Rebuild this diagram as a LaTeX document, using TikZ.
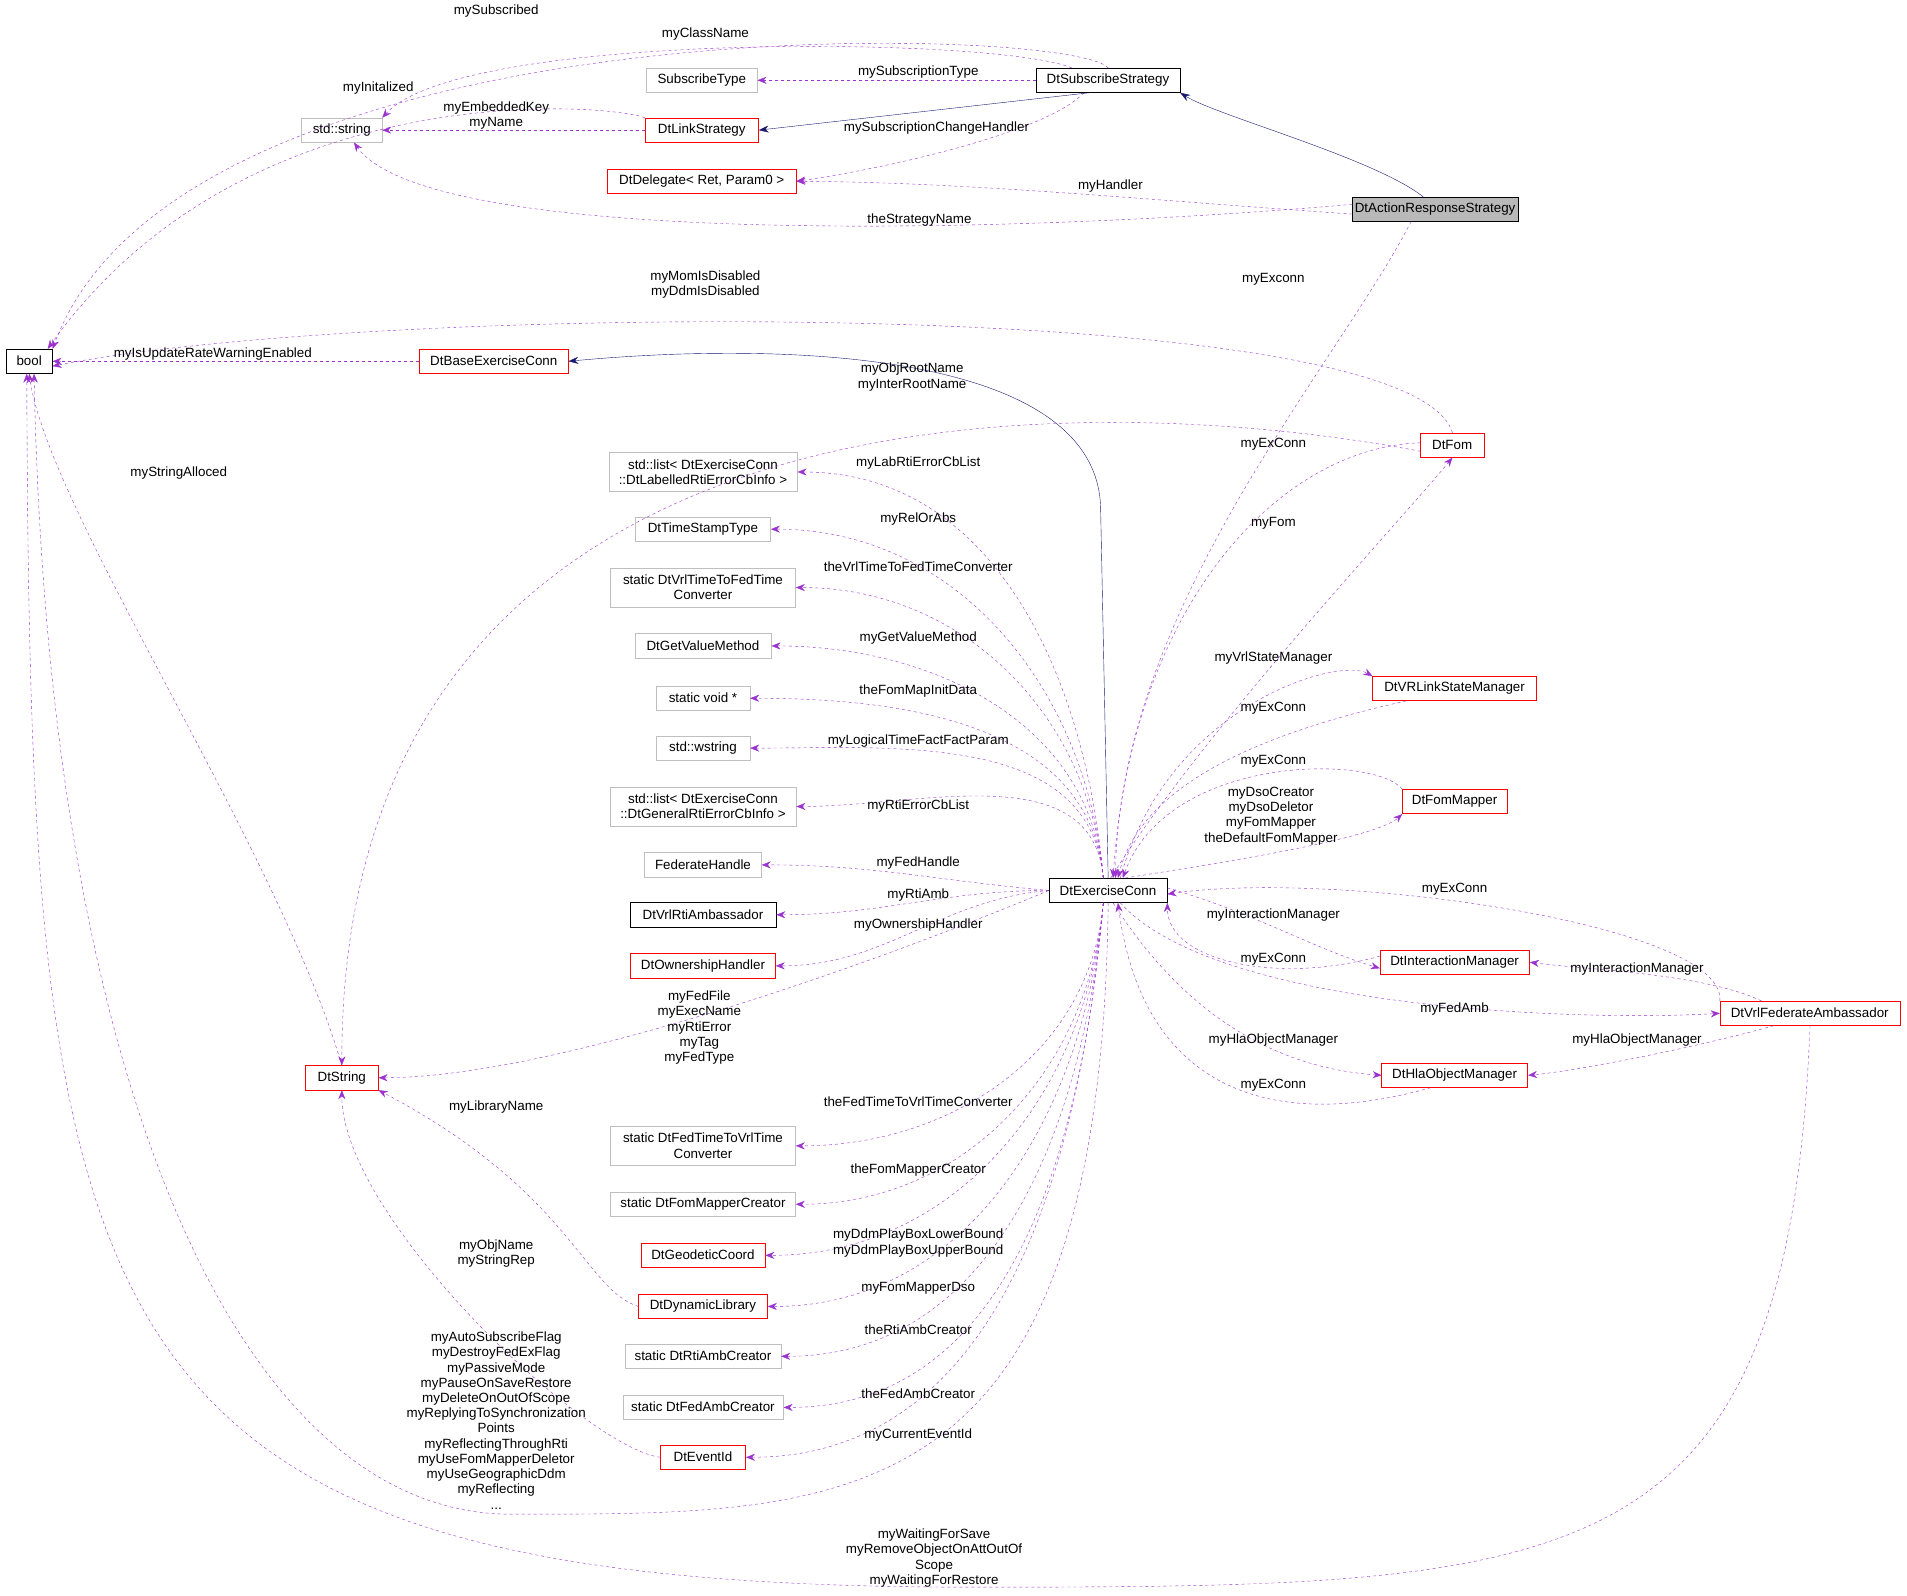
\documentclass[tikz,border=0pt]{standalone}
\usepackage{fontspec}
\setmainfont{Liberation Sans}
\usetikzlibrary{arrows.meta}
\definecolor{dep}{HTML}{9A32CD}
\definecolor{inh}{HTML}{191970}
\definecolor{gb}{HTML}{BFBFBF}
\begin{document}
\begin{tikzpicture}[x=1pt,y=-1pt,scale=1.2162,
  every node/.style={font=\fontsize{11}{12.5}\selectfont, transform shape},
  box/.style={draw, rectangle, inner sep=2pt, minimum height=20pt, align=center, fill=white},
  gbox/.style={box, draw=gb},
  rbox/.style={box, draw=red},
  kbox/.style={box, draw=black},
  lab/.style={align=center, inner sep=0pt},
  d/.style={draw=dep, dashed, -{Stealth[length=9pt,width=7pt]}},
  i/.style={draw=inh, -{Stealth[length=10pt,width=7pt]}}]
% nodes
\node[kbox, minimum width=38pt] (bool) at (24,297) {bool};
\node[gbox, minimum width=66pt] (sstr) at (281,107) {std::string};
\node[gbox, minimum width=91pt] (subt) at (577,66) {SubscribeType};
\node[kbox, minimum width=118pt] (ss) at (911,66) {DtSubscribeStrategy};
\node[rbox, minimum width=93pt] (ls) at (577,107) {DtLinkStrategy};
\node[rbox, minimum width=155pt] (del) at (577,149) {DtDelegate< Ret, Param0 >};
\node[kbox, fill=gray!55, minimum width=121pt] (ars) at (1180,172) {DtActionResponseStrategy};
\node[rbox, minimum width=122pt] (bec) at (406,297) {DtBaseExerciseConn};
\node[rbox, minimum width=52pt] (fom) at (1194,366) {DtFom};
\node[gbox, minimum width=155pt, minimum height=32pt, inner sep=1pt] (l1) at (578,388) {std::list< DtExerciseConn\\::DtLabelledRtiErrorCbInfo >};
\node[gbox, minimum width=111pt] (l2) at (578,435) {DtTimeStampType};
\node[gbox, minimum width=152pt, minimum height=32pt, inner sep=1pt] (l3) at (578,483) {static DtVrlTimeToFedTime\\Converter};
\node[gbox, minimum width=112pt] (l4) at (578,531) {DtGetValueMethod};
\node[gbox, minimum width=77pt] (l5) at (578,574) {static void *};
\node[gbox, minimum width=77pt] (l6) at (578,615) {std::wstring};
\node[gbox, minimum width=153pt, minimum height=32pt, inner sep=1pt] (l7) at (578,663) {std::list< DtExerciseConn\\::DtGeneralRtiErrorCbInfo >};
\node[gbox, minimum width=96pt] (l8) at (578,711) {FederateHandle};
\node[kbox, minimum width=120pt] (l9) at (578,752) {DtVrlRtiAmbassador};
\node[rbox, minimum width=119pt] (l10) at (578,794) {DtOwnershipHandler};
\node[rbox, minimum width=60pt] (dts) at (281,886) {DtString};
\node[gbox, minimum width=152pt, minimum height=32pt, inner sep=1pt] (l11) at (578,942) {static DtFedTimeToVrlTime\\Converter};
\node[gbox, minimum width=152pt] (l12) at (578,990) {static DtFomMapperCreator};
\node[rbox, minimum width=102pt] (l13) at (578,1032) {DtGeodeticCoord};
\node[rbox, minimum width=106pt] (l14) at (578,1074) {DtDynamicLibrary};
\node[gbox, minimum width=128pt] (l15) at (578,1115) {static DtRtiAmbCreator};
\node[gbox, minimum width=132pt] (l16) at (578,1157) {static DtFedAmbCreator};
\node[rbox, minimum width=70pt] (l17) at (578,1198) {DtEventId};
\node[kbox, minimum width=97pt] (ec) at (911,732) {DtExerciseConn};
\node[rbox, minimum width=135pt] (vrl) at (1196,566) {DtVRLinkStateManager};
\node[rbox, minimum width=86pt] (fm) at (1196,659) {DtFomMapper};
\node[rbox, minimum width=123pt] (im) at (1196,791) {DtInteractionManager};
\node[rbox, minimum width=148pt] (vfa) at (1488,833) {DtVrlFederateAmbassador};
\node[rbox, minimum width=120pt] (hom) at (1196,884) {DtHlaObjectManager};
% top edges
\draw[d] (ss.north) .. controls (880,20) and (150,0) .. (bool.north east);
\draw[d] ([xshift=-30pt]ss.north) .. controls (820,30) and (380,25) .. (sstr.north east);
\draw[d] (ss.west) -- (subt.east);
\draw[d] ([xshift=-20pt]ss.south) .. controls (860,110) and (720,140) .. (del.east);
\draw[i] ([xshift=-15pt]ss.south) -- (ls.east);
\draw[d] (ls.west) -- (sstr.east);
\draw[d] (ls.north west) .. controls (500,85) and (200,60) .. ([xshift=-4pt]bool.north east);
\draw[d] ([yshift=-4pt]ars.west) .. controls (950,165) and (800,150) .. (del.east);
\draw[d] ([yshift=4pt]ars.west) .. controls (800,195) and (350,200) .. ([xshift=10pt]sstr.south);
\draw[i] ([xshift=-10pt]ars.north) .. controls (1130,130) and (1000,95) .. (ss.south east);
\draw[d] ([xshift=-20pt]ars.south) .. controls (1100,300) and (920,500) .. ([xshift=6pt]ec.north);
\draw[d] (fom.north) .. controls (1160,240) and (300,250) .. ([yshift=-4pt]bool.east);
\draw[d] (bec.west) -- (bool.east);
\draw[i] (ec.north) -- (905,420) .. controls (905,290) and (650,280) .. (bec.east);
\draw[d] ([yshift=-5pt]fom.west) .. controls (900,320) and (281,300) .. (dts.north);
\draw[d] ([yshift=2pt]fom.west) .. controls (1050,368) and (930,500) .. ([xshift=4pt]ec.north);
\draw[d] ([xshift=2pt]ec.north) .. controls (990,600) and (1150,430) .. (fom.south);
% left deps
\foreach \n in {l1,l2,l3,l4,l5,l6,l7}
  \draw[d] ([xshift=-4pt]ec.north) to[out=95,in=0] (\n.east);
\draw[d] (ec.west) to[out=175,in=0] (l8.east);
\draw[d] (ec.west) to[out=180,in=0] (l9.east);
\draw[d] (ec.west) to[out=185,in=0] (l10.east);
\foreach \n in {l11,l12,l13,l14,l15,l16,l17}
  \draw[d] ([xshift=-4pt]ec.south) to[out=-95,in=0] (\n.east);
\draw[d] (ec.west) .. controls (700,800) and (450,886) .. (dts.east);
\draw[d] (dts.north) .. controls (230,700) and (40,420) .. (bool.south);
\draw[d] (l14.west) .. controls (480,1060) and (470,980) .. (dts.south east);
\draw[d] (l17.west) .. controls (480,1190) and (281,1000) .. (dts.south);
\draw[d] (ec.south) .. controls (905,1250) and (700,1245) .. (420,1245) .. controls (200,1245) and (40,900) .. ([xshift=4pt]bool.south);
\draw[d] (vfa.south) .. controls (1470,1300) and (1300,1305) .. (800,1305) .. controls (60,1305) and (25,1100) .. ([xshift=-2pt]bool.south);
% right deps
\draw[d] ([xshift=10pt]ec.north) .. controls (960,580) and (1100,540) .. (vrl.north west);
\draw[d] ([xshift=-40pt]vrl.south) .. controls (1050,600) and (940,640) .. ([xshift=8pt]ec.north);
\draw[d] (fm.north west) .. controls (1130,620) and (960,620) .. ([xshift=12pt]ec.north);
\draw[d] ([xshift=14pt]ec.north) .. controls (1000,710) and (1130,690) .. (fm.south west);
\draw[d] ([yshift=2pt]ec.east) .. controls (1030,750) and (1080,780) .. ([yshift=-5pt]im.west);
\draw[d] ([yshift=5pt]im.west) .. controls (1050,810) and (960,790) .. (ec.south east);
\draw[d] (vfa.north west) .. controls (1420,760) and (1100,715) .. ([yshift=-3pt]ec.east);
\draw[d] ([xshift=10pt]ec.south) .. controls (1000,830) and (1300,840) .. (vfa.west);
\draw[d] ([xshift=-40pt]vfa.north) .. controls (1400,800) and (1300,797) .. (im.east);
\draw[d] ([xshift=-30pt]vfa.south) .. controls (1400,860) and (1300,880) .. (hom.east);
\draw[d] ([xshift=4pt]ec.south) .. controls (990,860) and (1080,880) .. (hom.west);
\draw[d] ([xshift=-20pt]hom.south) .. controls (1050,930) and (940,900) .. ([xshift=8pt]ec.south);
% labels
\node[lab] (a1) at (408,9) {mySubscribed};
\node[lab] (a2) at (580,28) {myClassName};
\node[lab] (a3) at (755,59) {mySubscriptionType};
\node[lab] (a4) at (770,105) {mySubscriptionChangeHandler};
\node[lab] (a5) at (408,95) {myEmbeddedKey\\myName};
\node[lab] (a6) at (311,72) {myInitalized};
\node[lab] (a7) at (913,153) {myHandler};
\node[lab] (a8) at (756,181) {theStrategyName};
\node[lab] (a9) at (1047,230) {myExconn};
\node[lab] (a10) at (580,234) {myMomIsDisabled\\myDdmIsDisabled};
\node[lab] (a11) at (175,291) {myIsUpdateRateWarningEnabled};
\node[lab] (a12) at (750,310) {myObjRootName\\myInterRootName};
\node[lab] (a13) at (1047,365) {myExConn};
\node[lab] (a14) at (1047,430) {myFom};
\node[lab] (a15) at (147,389) {myStringAlloced};
\node[lab] (b1) at (755,381) {myLabRtiErrorCbList};
\node[lab] (b2) at (755,427) {myRelOrAbs};
\node[lab] (b3) at (755,466) {theVrlTimeToFedTimeConverter};
\node[lab] (b4) at (755,525) {myGetValueMethod};
\node[lab] (b5) at (755,568) {theFomMapInitData};
\node[lab] (b6) at (755,609) {myLogicalTimeFactFactParam};
\node[lab] (b7) at (755,663) {myRtiErrorCbList};
\node[lab] (b8) at (755,710) {myFedHandle};
\node[lab] (b9) at (755,736) {myRtiAmb};
\node[lab] (b10) at (755,761) {myOwnershipHandler};
\node[lab] (b11) at (575,845) {myFedFile\\myExecName\\myRtiError\\myTag\\myFedType};
\node[lab] (b12) at (408,910) {myLibraryName};
\node[lab] (b13) at (755,906) {theFedTimeToVrlTimeConverter};
\node[lab] (b14) at (755,962) {theFomMapperCreator};
\node[lab] (b15) at (755,1022) {myDdmPlayBoxLowerBound\\myDdmPlayBoxUpperBound};
\node[lab] (b16) at (755,1059) {myFomMapperDso};
\node[lab] (b17) at (755,1093) {theRtiAmbCreator};
\node[lab] (b18) at (755,1146) {theFedAmbCreator};
\node[lab] (b19) at (755,1180) {myCurrentEventId};
\node[lab] (b20) at (408,1031) {myObjName\\myStringRep};
\node[lab] (b21) at (408,1168) {myAutoSubscribeFlag\\myDestroyFedExFlag\\myPassiveMode\\myPauseOnSaveRestore\\myDeleteOnOutOfScope\\myReplyingToSynchronization\\Points\\myReflectingThroughRti\\myUseFomMapperDeletor\\myUseGeographicDdm\\myReflecting\\...};
\node[lab] (b22) at (768,1281) {myWaitingForSave\\myRemoveObjectOnAttOutOf\\Scope\\myWaitingForRestore};
\node[lab] (c1) at (1047,541) {myVrlStateManager};
\node[lab] (c2) at (1047,582) {myExConn};
\node[lab] (c3) at (1047,626) {myExConn};
\node[lab] (c4) at (1045,671) {myDsoCreator\\myDsoDeletor\\myFomMapper\\theDefaultFomMapper};
\node[lab] (c5) at (1047,752) {myInteractionManager};
\node[lab] (c6) at (1047,789) {myExConn};
\node[lab] (c7) at (1196,731) {myExConn};
\node[lab] (c8) at (1196,830) {myFedAmb};
\node[lab] (c9) at (1346,797) {myInteractionManager};
\node[lab] (c10) at (1346,855) {myHlaObjectManager};
\node[lab] (c11) at (1047,855) {myHlaObjectManager};
\node[lab] (c12) at (1047,892) {myExConn};
\pgfresetboundingbox
\useasboundingbox (0,0) rectangle (1568,1311.5);
\end{tikzpicture}
\end{document}
